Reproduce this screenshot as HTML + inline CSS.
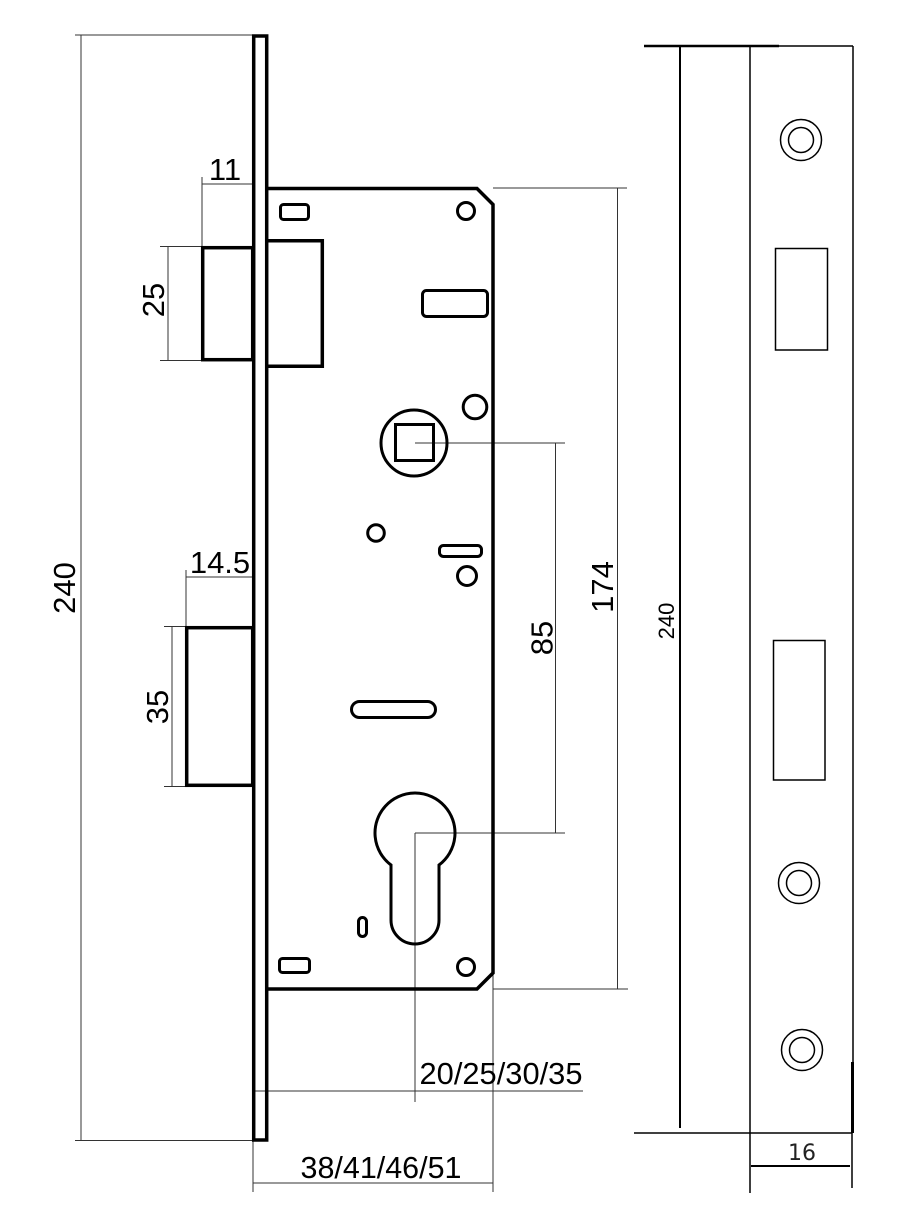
<!DOCTYPE html>
<html>
<head>
<meta charset="utf-8">
<style>
html,body{margin:0;padding:0;background:#fff;}
svg{display:block;}
text{font-family:"Liberation Sans",Arial,sans-serif;fill:#000;}
</style>
</head>
<body>
<svg width="916" height="1220" viewBox="0 0 916 1220" xmlns="http://www.w3.org/2000/svg">
<rect x="0" y="0" width="916" height="1220" fill="#fff"/>

<!-- thin dimension lines -->
<g stroke="#333" stroke-width="1" fill="none">
  <!-- 240 left -->
  <line x1="75" y1="35" x2="252" y2="35"/>
  <line x1="81" y1="35" x2="81" y2="1140"/>
  <line x1="75" y1="1140.5" x2="252" y2="1140.5"/>
  <!-- 11 -->
  <line x1="202" y1="177" x2="202" y2="246"/>
  <line x1="202" y1="184" x2="252" y2="184"/>
  <!-- 25 -->
  <line x1="160" y1="246.5" x2="201" y2="246.5"/>
  <line x1="160" y1="360.5" x2="201" y2="360.5"/>
  <line x1="168" y1="246" x2="168" y2="361"/>
  <!-- 14.5 -->
  <line x1="186" y1="570" x2="186" y2="626"/>
  <line x1="186" y1="577" x2="252" y2="577"/>
  <!-- 35 -->
  <line x1="164" y1="626.5" x2="185" y2="626.5"/>
  <line x1="164" y1="786.5" x2="185" y2="786.5"/>
  <line x1="172" y1="626" x2="172" y2="787"/>
  <!-- 174 -->
  <line x1="493" y1="188" x2="627" y2="188"/>
  <line x1="493" y1="989" x2="628" y2="989"/>
  <line x1="617.5" y1="188" x2="617.5" y2="989"/>
  <!-- 85 -->
  <line x1="415" y1="443" x2="565" y2="443"/>
  <line x1="415" y1="833" x2="565" y2="833"/>
  <line x1="555.5" y1="443" x2="555.5" y2="833"/>
  <!-- backset -->
  <line x1="415" y1="833" x2="415" y2="1102"/>
  <line x1="253" y1="1091" x2="583" y2="1091"/>
  <!-- 38/41 -->
  <line x1="493" y1="973" x2="493" y2="1192"/>
  <line x1="253" y1="1140" x2="253" y2="1192"/>
  <line x1="253" y1="1183" x2="493" y2="1183"/>
</g>

<!-- main outlines -->
<g stroke="#000" stroke-width="3.5" fill="none" stroke-linejoin="miter">
  <rect x="253.7" y="36" width="13" height="1104"/>
  <polyline points="268,188.5 477,188.5 493,204.5 493,973 477,989 268,989"/>
  <rect x="202.7" y="247.7" width="50" height="112"/>
  <polyline points="268,240.7 322.3,240.7 322.3,366.3 268,366.3"/>
  <rect x="186.7" y="627.7" width="66" height="157.6"/>
</g>

<g stroke="#000" stroke-width="3" fill="none">
  <rect x="280.5" y="204.5" width="28" height="15" rx="3"/>
  <circle cx="466" cy="211" r="8.5"/>
  <rect x="422.5" y="290.5" width="65" height="26" rx="4"/>
  <circle cx="475" cy="407" r="11.8"/>
  <circle cx="414" cy="443" r="33"/>
  <rect x="395.5" y="424.5" width="38" height="36"/>
  <circle cx="376" cy="533" r="8.3"/>
  <rect x="439.5" y="545.5" width="42" height="11" rx="4"/>
  <circle cx="467" cy="576" r="9.5"/>
  <rect x="351.5" y="701.5" width="84" height="16" rx="8"/>
  <path d="M391,865 A40,40 0 1 1 439,865 L439,920 A24,24 0 0 1 391,920 Z"/>
  <rect x="358.5" y="917.5" width="8" height="19" rx="4"/>
  <rect x="279.5" y="958.5" width="30" height="14" rx="3"/>
  <circle cx="466" cy="967" r="8.5"/>
</g>

<!-- labels left view -->
<g font-size="31">
  <text x="225" y="180" text-anchor="middle">11</text>
  <text x="220" y="573" text-anchor="middle">14.5</text>
  <text x="501" y="1084" text-anchor="middle" textLength="163" lengthAdjust="spacingAndGlyphs">20/25/30/35</text>
  <text x="381" y="1178" text-anchor="middle" textLength="161" lengthAdjust="spacingAndGlyphs">38/41/46/51</text>
  <text transform="translate(153,300) rotate(-90)" x="0" y="11.1" text-anchor="middle">25</text>
  <text transform="translate(157,707) rotate(-90)" x="0" y="11.1" text-anchor="middle">35</text>
  <text transform="translate(64,588) rotate(-90)" x="0" y="11.1" text-anchor="middle">240</text>
  <text transform="translate(541.5,638) rotate(-90)" x="0" y="11.1" text-anchor="middle">85</text>
  <text transform="translate(602,587) rotate(-90)" x="0" y="11.1" text-anchor="middle">174</text>
</g>
<text transform="translate(666,621) rotate(-90)" x="0" y="8" text-anchor="middle" font-size="22">240</text>

<!-- right view -->
<g stroke="#000" fill="none">
  <line x1="644" y1="46" x2="779" y2="46" stroke-width="2.5"/>
  <line x1="779" y1="46" x2="853" y2="46" stroke-width="1.5"/>
  <line x1="680" y1="47" x2="680" y2="1128" stroke-width="2"/>
  <line x1="750" y1="46" x2="750" y2="1193" stroke-width="1.5"/>
  <line x1="853" y1="46" x2="853" y2="1062" stroke-width="1.5"/>
  <line x1="852.5" y1="1062" x2="852.5" y2="1133" stroke-width="3"/>
  <line x1="852" y1="1133" x2="852" y2="1188" stroke-width="1.5"/>
  <line x1="634" y1="1133" x2="852" y2="1133" stroke-width="1.5"/>
  <line x1="751" y1="1166" x2="850" y2="1166" stroke-width="2"/>
  <g stroke-width="1.5">
    <circle cx="801" cy="140" r="20.5"/>
    <circle cx="801" cy="140" r="12.5"/>
    <rect x="775.5" y="248.5" width="52" height="101.5"/>
    <rect x="773.5" y="640.5" width="51.5" height="139.5"/>
    <circle cx="799" cy="883" r="20.5"/>
    <circle cx="799" cy="883" r="12.5"/>
    <circle cx="802" cy="1050" r="20.5"/>
    <circle cx="802" cy="1050" r="12.5"/>
  </g>
</g>
<text x="802" y="1160" text-anchor="middle" font-size="22" style="font-family:'DejaVu Sans',sans-serif;fill:#222">16</text>
</svg>
</body>
</html>
